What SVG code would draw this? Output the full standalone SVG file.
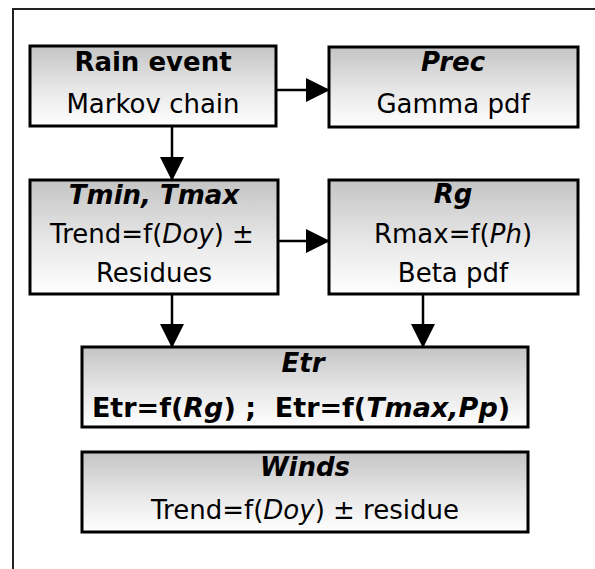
<svg xmlns="http://www.w3.org/2000/svg" width="595" height="569" viewBox="0 0 595 569">
<style>
text{font-family:"DejaVu Sans","Verdana",sans-serif;font-size:26px;fill:#000;text-anchor:middle;white-space:pre}
.t{font-weight:bold;font-style:italic}
.b{font-weight:bold}
.i{font-style:italic}
.big{font-size:27px}
.box{fill:url(#g);stroke:#000;stroke-width:3}
.c{stroke:#000;stroke-width:2.5;fill:none}
.frame{stroke:#222;stroke-width:2;fill:none}
</style>
<defs>
<linearGradient id="g" x1="0" y1="0" x2="0" y2="1">
<stop offset="0" stop-color="#c4c4c4"/>
<stop offset="0.55" stop-color="#e8e8e8"/>
<stop offset="1" stop-color="#ffffff"/>
</linearGradient>
<marker id="ah" markerUnits="userSpaceOnUse" markerWidth="24" markerHeight="24" viewBox="0 0 24 24" refX="23" refY="12" orient="auto">
<path d="M0,0 L24,12 L0,24 Z" fill="#000"/>
</marker>
</defs>
<path class="frame" d="M13,569 V9 H595"/>
<g id="connectors">
<line class="c" x1="276" y1="90" x2="329" y2="90" marker-end="url(#ah)"/>
<line class="c" x1="172" y1="126" x2="172" y2="180" marker-end="url(#ah)"/>
<line class="c" x1="278" y1="241" x2="329" y2="241" marker-end="url(#ah)"/>
<line class="c" x1="172" y1="294" x2="172" y2="347" marker-end="url(#ah)"/>
<line class="c" x1="423" y1="294" x2="423" y2="347" marker-end="url(#ah)"/>
</g>
<g id="rain">
<rect class="box" x="30" y="46" width="246" height="80"/>
<text class="b" x="153" y="71">Rain event</text>
<text x="153" y="113">Markov chain</text>
</g>
<g id="prec">
<rect class="box" x="329" y="47" width="249" height="80"/>
<text class="t" x="453" y="71">Prec</text>
<text x="453" y="113">Gamma pdf</text>
</g>
<g id="tmin">
<rect class="box" x="30" y="180" width="248" height="114"/>
<text class="t" x="154" y="204">Tmin, Tmax</text>
<text x="152" y="243">Trend=f(<tspan class="i">Doy</tspan>) ±</text>
<text x="154" y="282">Residues</text>
</g>
<g id="rg">
<rect class="box" x="329" y="180" width="249" height="114"/>
<text class="t" x="453" y="203">Rg</text>
<text x="453" y="243">Rmax=f(<tspan class="i">Ph</tspan>)</text>
<text x="453" y="282">Beta pdf</text>
</g>
<g id="etr">
<rect class="box" x="82" y="347" width="446" height="80"/>
<text class="t" x="303" y="372">Etr</text>
<text class="b big" x="301" y="417">Etr=f(<tspan class="i">Rg</tspan>) ;  Etr=f(<tspan class="i">Tmax,Pp</tspan>)</text>
</g>
<g id="winds">
<rect class="box" x="82" y="452" width="446" height="80"/>
<text class="t" x="305" y="476">Winds</text>
<text x="305" y="519">Trend=f(<tspan class="i">Doy</tspan>) ± residue</text>
</g>
</svg>
